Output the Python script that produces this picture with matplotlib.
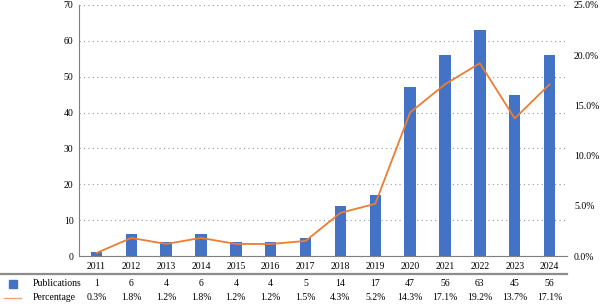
import matplotlib.pyplot as plt
import matplotlib.lines as mlines
import matplotlib.patches as mpatches
import numpy as np

plt.rcParams['font.family'] = ['Liberation Serif', 'DejaVu Serif']

years = ['2011', '2012', '2013', '2014', '2015', '2016', '2017',
         '2018', '2019', '2020', '2021', '2022', '2023', '2024']
publications = [1, 6, 4, 6, 4, 4, 5, 14, 17, 47, 56, 63, 45, 56]
percentage = [0.3, 1.8, 1.2, 1.8, 1.2, 1.2, 1.5, 4.3, 5.2, 14.3, 17.1, 19.2, 13.7, 17.1]

bar_color = '#4472C4'
line_color = '#ED7D31'
fs = 7

fig = plt.figure(figsize=(6, 3.04), dpi=100)
ax = fig.add_axes([79 / 600, 1 - 256 / 304, (567 - 79) / 600, (256 - 5) / 304])
x = np.arange(len(years))

ax.bar(x, publications, width=0.33, color=bar_color, zorder=2)
ax.set_xlim(-0.5, len(years) - 0.5)
ax.set_ylim(0, 70)
ax.set_yticks(range(0, 71, 10))
ax.yaxis.grid(True, linestyle=(0, (1, 3)), color='#999999', linewidth=0.8)
ax.set_axisbelow(True)
ax.set_xticks(x)
ax.set_xticklabels(years, fontsize=fs)
ax.tick_params(axis='y', labelsize=fs, length=0, pad=4)
ax.tick_params(axis='x', length=0, pad=4)
for s in ['top', 'right']:
    ax.spines[s].set_visible(False)
ax.spines['left'].set_color('#7f7f7f')
ax.spines['bottom'].set_color('#7f7f7f')

ax2 = ax.twinx()
ax2.plot(x, percentage, color=line_color, linewidth=1.3, zorder=3)
ax2.set_ylim(0, 25)
ax2.set_yticks(range(0, 26, 5))
ax2.set_yticklabels([f'{v:.1f}%' for v in range(0, 26, 5)], fontsize=fs)
ax2.tick_params(axis='y', length=0, pad=5)
for s in ['top', 'right', 'left', 'bottom']:
    ax2.spines[s].set_visible(False)

# data table under the chart
fig.add_artist(mlines.Line2D([0, 567 / 600], [1 - 274 / 304] * 2,
                             color='#8c8c8c', linewidth=1.6))
y_pub = 1 - 284 / 304
y_pct = 1 - 298 / 304
fig.add_artist(mpatches.Rectangle((9 / 600, y_pub - 4 / 304), 8 / 600, 8 / 304,
                                  color=bar_color, transform=fig.transFigure))
fig.add_artist(mlines.Line2D([4 / 600, 21 / 600], [y_pct, y_pct],
                             color=line_color, linewidth=1.0, alpha=0.7,
                             transform=fig.transFigure))
fig.text(33 / 600, y_pub, 'Publications', fontsize=fs, va='center')
fig.text(33 / 600, y_pct, 'Percentage', fontsize=fs, va='center')

for i in range(len(years)):
    xf = fig.transFigure.inverted().transform(ax.transData.transform((x[i], 0)))[0]
    fig.text(xf, y_pub, str(publications[i]), fontsize=fs, ha='center', va='center')
    fig.text(xf, y_pct, f'{percentage[i]:.1f}%', fontsize=fs, ha='center', va='center')

fig.savefig('out.png', dpi=100)
